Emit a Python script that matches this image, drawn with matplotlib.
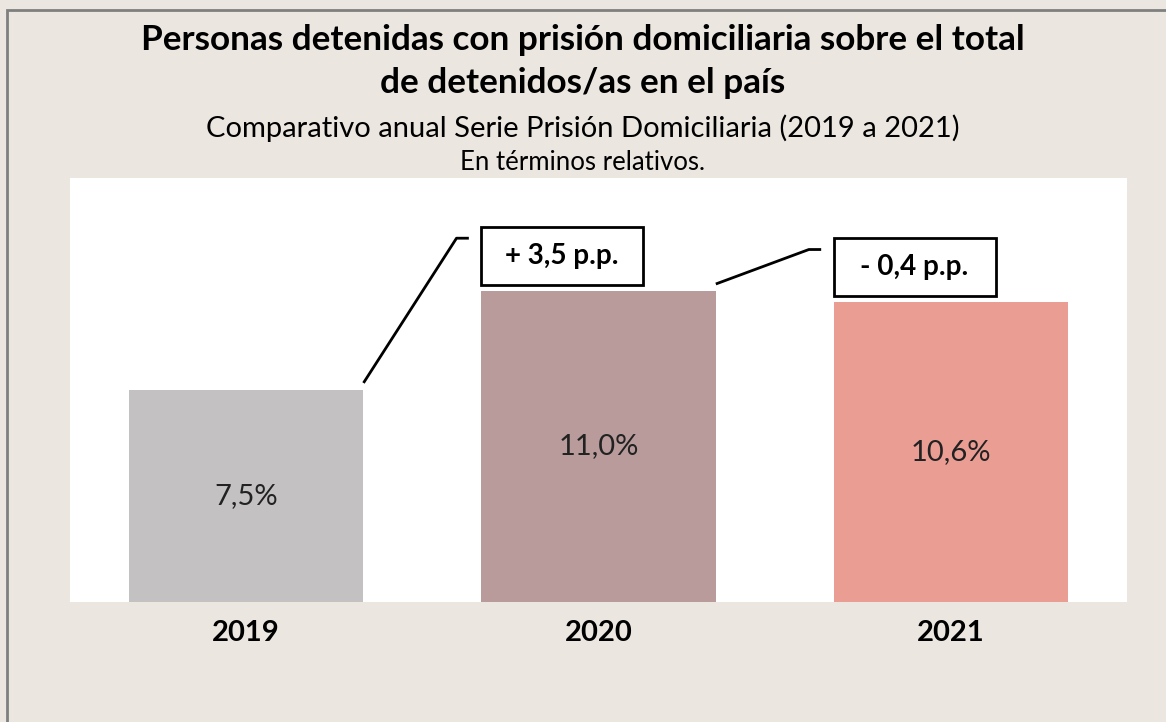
import matplotlib.pyplot as plt
from matplotlib.patches import Rectangle

plt.rcParams['font.family'] = ['Lato', 'DejaVu Sans']

# data
years = ['2019', '2020', '2021']
values = [7.5, 11.0, 10.6]
changes = [None, '+ 3,5 p.p.', '- 0,4 p.p.']
value_labels = ['7,5%', '11,0%', '10,6%']
colors = ['#c3c1c2', '#b99b9b', '#ea9d93']

bg = '#ebe6e0'
W = 0.666

fig = plt.figure(figsize=(11.66, 7.22), dpi=100, facecolor=bg)
# frame border (runs off the right / bottom of the image)
fig.patches.append(Rectangle((7 / 1166, -0.1), 1.2, 1 - 10 / 722 + 0.1,
                             transform=fig.transFigure, fill=False,
                             edgecolor='#7f7f7f', linewidth=2))

ax = fig.add_axes([70 / 1166, 1 - 602 / 722, 1057 / 1166, 424 / 722])
ax.set_facecolor('white')
ax.set_xlim(-0.5, 2.5)
ax.set_ylim(0, 15)
for s in ax.spines.values():
    s.set_visible(False)
ax.set_yticks([])
ax.set_xticks(range(len(years)))
ax.set_xticklabels(years, fontsize=21, fontweight='bold')
ax.tick_params(axis='x', length=0, pad=13)

xs = list(range(len(years)))
ax.bar(xs, values, width=W, color=colors)

for x, v, lab in zip(xs, values, value_labels):
    ax.text(x, v / 2, lab, ha='center', va='center', fontsize=21, color='#222222')

# change callouts
bw, bh = 0.46, 2.05
for i in range(1, len(values)):
    if changes[i] is None:
        continue
    left = xs[i] - W / 2
    bottom = values[i] + 0.22
    ax.add_patch(Rectangle((left, bottom), bw, bh, facecolor='white',
                           edgecolor='black', linewidth=2, zorder=3))
    ax.text(left + bw / 2, bottom + bh / 2, changes[i], ha='center', va='center',
            fontsize=20, fontweight='bold', zorder=4)
    y_end = bottom + bh - 0.4
    lx = [xs[i - 1] + W / 2, left - 0.07, left - 0.035]
    ly = [values[i - 1] + 0.25, y_end, y_end]
    ax.plot(lx, ly, color='black', linewidth=2, solid_capstyle='butt')

fig.text(0.5, 1 - 40 / 722, 'Personas detenidas con prisión domiciliaria sobre el total',
         ha='center', va='center', fontsize=25.3, fontweight='bold')
fig.text(0.5, 1 - 83 / 722, 'de detenidos/as en el país',
         ha='center', va='center', fontsize=25.3, fontweight='bold')
fig.text(0.5, 1 - 128 / 722, 'Comparativo anual Serie Prisión Domiciliaria (2019 a 2021)',
         ha='center', va='center', fontsize=21)
fig.text(0.5, 1 - 162 / 722, 'En términos relativos.',
         ha='center', va='center', fontsize=18.5)

fig.savefig('out.png', dpi=100, facecolor=bg)
